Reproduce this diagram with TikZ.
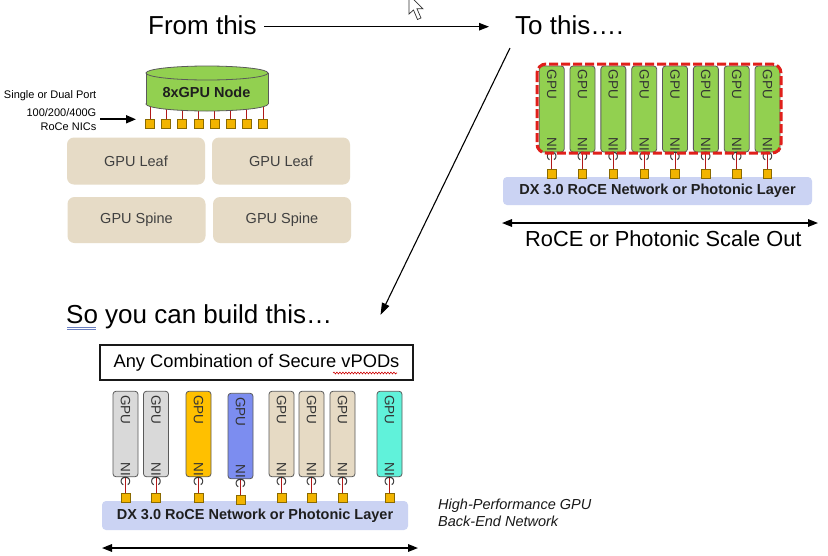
\documentclass[tikz,border=0pt]{standalone}
\usepackage{fontspec}
\setmainfont{Liberation Sans}
\usetikzlibrary{arrows.meta,calc,decorations.pathmorphing}
\definecolor{gpugreen}{HTML}{92D050}
\definecolor{leafbeige}{HTML}{E6DBC6}
\definecolor{barblue}{HTML}{CBD3F3}
\definecolor{nicred}{HTML}{B01818}
\definecolor{sqyellow}{HTML}{F2B400}
\definecolor{sqedge}{HTML}{8A6A00}
\definecolor{dashred}{HTML}{E0201B}
\definecolor{cgray}{HTML}{D9D9D9}
\definecolor{corange}{HTML}{FFC000}
\definecolor{cblue}{HTML}{7C8DF0}
\definecolor{cbeige}{HTML}{E6DAC4}
\definecolor{ccyan}{HTML}{60F2DA}
\definecolor{edgegray}{HTML}{5A5A5A}
\definecolor{txtgray}{HTML}{333333}
\definecolor{txtdark}{HTML}{404040}
\definecolor{squblue}{HTML}{6A7FC0}
\begin{document}
\begin{tikzpicture}[x=1pt,y=-1pt,
  title/.style={font=\fontsize{26}{30}\selectfont, inner sep=0, anchor=base west},
  card/.style={draw=edgegray, line width=0.8pt, rounded corners=3pt, minimum width=25pt, minimum height=86pt, inner sep=0},
  sq/.style={draw=sqedge, fill=sqyellow, line width=0.6pt, minimum size=8.5pt, inner sep=0},
  gputxt/.style={font=\fontsize{13.5}{14}\selectfont, text=txtgray, inner sep=0, rotate=-90, anchor=west},
  nictxt/.style={font=\fontsize{13.5}{14}\selectfont, text=txtgray, inner sep=0, rotate=-90, anchor=east},
  nicline/.style={draw=nicred, line width=0.9pt},
  bar/.style={fill=barblue, rounded corners=4pt, inner sep=0, font=\bfseries\fontsize{14.5}{17}\selectfont, text=black!88},
  leaf/.style={fill=leafbeige, rounded corners=7pt, inner sep=0, minimum width=138pt, minimum height=47pt, font=\fontsize{14.5}{17}\selectfont, text=txtdark},
  arr/.style={-{Triangle[length=10pt,width=7.5pt]}, line width=1.2pt},
  darr/.style={{Triangle[length=10pt,width=7.5pt]}-{Triangle[length=10pt,width=7.5pt]}, line width=1.5pt},
  lbl/.style={font=\fontsize{11}{13}\selectfont, inner sep=0, anchor=base east}
]
\useasboundingbox (0,0) rectangle (828,555);
\fill[white] (0,0) rectangle (828,555);

% ---- titles and top arrows
\node[title] (from) at (148,34) {From this};
\node[title] (tothis) at (515,34) {To this….};
\coordinate (fromend) at (264,26.7);
\coordinate (toend) at (489,26.7);
\draw[arr] (fromend) -- (toend);
\coordinate (diagA) at (510,48);
\coordinate (diagB) at (380.5,315);
\draw[-{Triangle[length=12pt,width=8pt]}, line width=1.1pt] (diagA) -- (diagB);

% mouse cursor
\filldraw[fill=white, draw=black!80, line width=0.7pt] (409,-5) -- (409,14) -- (413.5,10) -- (417.5,19.5) -- (421,18) -- (417,8.8) -- (423,8.8) -- cycle;

% ---- 8xGPU node (left top)
\foreach \i in {0,...,7}{
  \pgfmathsetmacro\sx{150+16.14*\i}
  \node[sq, minimum size=9pt] (ls\i) at (\sx,124) {};
  \coordinate (cy\i) at (\sx,100);
  \draw[nicline] (ls\i.north) -- (cy\i);
}
\filldraw[fill=gpugreen, draw=edgegray, line width=0.8pt] (207,104) ellipse [x radius=61pt, y radius=7pt];
\fill[gpugreen] (146,73) rectangle (268,104);
\draw[edgegray, line width=0.8pt] (146,73) -- (146,104) (268,73) -- (268,104);
\filldraw[fill=gpugreen, draw=edgegray, line width=0.8pt] (207,73) ellipse [x radius=61pt, y radius=7pt];
\node[font=\bfseries\fontsize{14.5}{17}\selectfont, text=black!88, inner sep=0] (gpunode) at (206.5,92) {8xGPU Node};

\node[lbl] (lbl1) at (96.5,98.5) {Single or Dual Port};
\node[lbl] (lbl2) at (96.5,116) {100/200/400G};
\node[lbl] (lbl3) at (96.5,130) {RoCe NICs};
\coordinate (lblA) at (100,119.3);
\coordinate (lblB) at (136,119.3);
\draw[-{Triangle[length=10pt,width=8pt]}, line width=1.8pt] (lblA) -- (lblB);

\node[leaf] (leafA) at (136,161) {GPU Leaf};
\node[leaf] (leafB) at (281,161) {GPU Leaf};
\node[leaf, minimum height=46pt] (spineA) at (136.5,220) {GPU Spine};
\node[leaf, minimum height=46pt] (spineB) at (282,220) {GPU Spine};

% ---- right top: scale out
\node[bar, minimum width=309pt, minimum height=28pt] (barT) at (657.5,191) {DX 3.0 RoCE Network or Photonic Layer};
\foreach \i in {0,...,7}{
  \pgfmathsetmacro\cx{551.7+30.83*\i}
  \node[card, fill=gpugreen] (t\i) at (\cx,109) {};
  \node[sq] (ts\i) at (\cx,174) {};
  \draw[nicline] (t\i.south) -- (ts\i.north);
  \node[gputxt] (tg\i) at ($(t\i.north)+(0,4)$) {GPU};
  \node[nictxt] (tn\i) at ($(t\i.south)+(0,9)$) {NIC};
}
\draw[dashred, line width=3pt, dash pattern=on 9pt off 3pt, rounded corners=9pt] (537,64) rectangle (781,153);
\coordinate (soL) at (502,223);
\coordinate (soR) at (818,223);
\draw[darr] (soL) -- (soR);
\node[font=\fontsize{21.8}{26}\selectfont, inner sep=0, anchor=base west] (scaleout) at (525,246.5) {RoCE or Photonic Scale Out};

% ---- bottom: so you can build this
\node[title] (sobuild) at (66,323) {So you can build this…};
\draw[squblue, line width=0.6pt] (67,327) -- (96,327) (67,329) -- (96,329);

\node[draw=black!90, line width=2.2pt, fill=white, minimum width=313pt, minimum height=35pt, inner sep=0, font=\fontsize{18.3}{22}\selectfont] (vpod) at (256.5,362.5) {Any Combination of Secure vPODs};
\draw[red!80!black, line width=0.6pt, decorate, decoration={snake, amplitude=0.9pt, segment length=3pt}] (333,373) -- (397,373);

\node[bar, minimum width=306pt, minimum height=29pt] (barB) at (255,515.5) {DX 3.0 RoCE Network or Photonic Layer};
\foreach \x/\c/\d [count=\k] in {125.5/cgray/0, 156/cgray/0, 198.5/corange/0, 240.5/cblue/2, 281.5/cbeige/0, 311.5/cbeige/0, 342.5/cbeige/0, 389.5/ccyan/0}{
  \node[card, fill=\c, minimum height=85.5pt] (b\k) at (\x,434+\d) {};
  \node[sq, minimum size=8.8pt] (bs\k) at (\x,497.5+\d) {};
  \draw[nicline] (b\k.south) -- (bs\k.north);
  \node[gputxt] (bg\k) at ($(b\k.north)+(0,4)$) {GPU};
  \node[nictxt] (bn\k) at ($(b\k.south)+(0,9)$) {NIC};
}
\coordinate (bL) at (102,548);
\coordinate (bR) at (418,548);
\draw[darr] (bL) -- (bR);

\node[font=\itshape\fontsize{14.5}{17.5}\selectfont, inner sep=0, anchor=base west, align=left, text=black!90] (hp1) at (438,509) {High-Performance GPU};
\node[font=\itshape\fontsize{14.5}{17.5}\selectfont, inner sep=0, anchor=base west, align=left, text=black!90] (hp2) at (438,526.5) {Back-End Network};
\end{tikzpicture}
\end{document}
